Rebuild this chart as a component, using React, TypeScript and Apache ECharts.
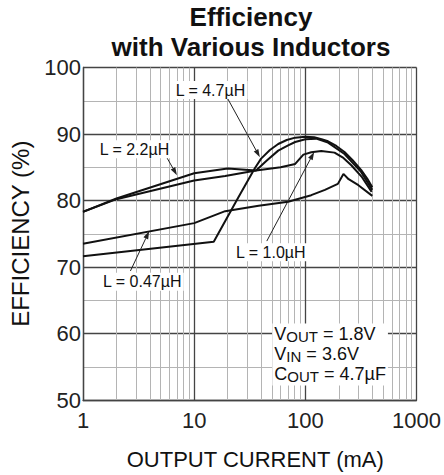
import React, { useEffect, useRef } from "react";
import * as echarts from "echarts";

// ---------- data (output current mA, efficiency %) ----------
const X_TICKS = [1, 10, 100, 1000];
const Y_TICKS = [50, 60, 70, 80, 90, 100];
const MINOR_X = [2, 3, 4, 5, 6, 7, 8, 9, 20, 30, 40, 50, 60, 70, 80, 90, 200, 300, 400, 500, 600, 700, 800, 900];

const L_4_7 = [
  [1, 71.6], [15, 73.8], [25, 80.5], [35, 84.8], [40, 86.3], [48, 87.6], [57, 88.5], [68, 89.1],
  [81, 89.45], [100, 89.6], [120, 89.5], [140, 89.2], [160, 88.9], [190, 88.2], [225, 87.3],
  [265, 86.1], [317, 84.6], [360, 83.3], [400, 82.0],
];
const L_2_2 = [
  [1, 78.3], [2, 80.3], [10, 84.1], [20, 84.8], [36, 84.5], [45, 86.0], [57, 87.5], [70, 88.3],
  [81, 88.8], [100, 89.2], [125, 89.3], [160, 88.7], [225, 87.0], [317, 84.3], [400, 81.6],
];
const L_1_0 = [
  [1, 78.3], [2, 80.2], [10, 83.0], [19, 83.7], [36, 84.5], [60, 85.0], [81, 85.5], [96, 86.9],
  [113, 87.25], [139, 87.45], [183, 87.2], [220, 86.4], [259, 85.3], [320, 83.6], [395, 81.3],
];
const L_0_47 = [
  [1, 73.5], [10, 76.6], [19, 78.4], [38, 79.2], [70, 79.8], [113, 80.8], [150, 81.6], [196, 82.5],
  [220, 84.0], [245, 83.2], [300, 82.3], [400, 80.7],
];

const SERIES_NAMES = ["L = 4.7µH", "L = 2.2µH", "L = 1.0µH", "L = 0.47µH"];

// ---------- annotation layout (data coordinates) ----------
const ANNOTATIONS = [
  { text: "L = 4.7µH", at: [14.0, 96.6], from: [19.9, 95.4], to: [39.0, 86.5] },
  { text: "L = 2.2µH", at: [2.9, 87.7], from: [5.7, 86.4], to: [7.0, 83.8] },
  { text: "L = 0.47µH", at: [3.41, 67.8], from: [2.67, 69.4], to: [3.94, 75.4] },
  { text: "L = 1.0µH", at: [48.9, 72.2], from: [45.0, 73.9], to: [120, 87.3] },
];
const CONDITIONS_AT = [50.5, 61.5];

const FONT = "'Liberation Sans', Arial, sans-serif";

export default function App() {
  const ref = useRef<HTMLDivElement>(null);

  useEffect(() => {
    if (!ref.current) return;
    const chart = echarts.init(ref.current, null, { renderer: "svg" });

    const curve = (name: string, data: number[][]) => ({
      name,
      type: "line",
      data,
      showSymbol: false,
      symbol: "none",
      smooth: false,
      z: 5,
      lineStyle: { color: "#111", width: 2 },
    });

    chart.setOption({
      animation: false,
      textStyle: { fontFamily: FONT },
      title: {
        text: "Efficiency\nwith Various Inductors",
        left: 251,
        top: 2,
        textAlign: "center",
        padding: 0,
        textStyle: { fontSize: 26, fontWeight: "bold", lineHeight: 30, color: "#111", fontFamily: FONT },
      },
      grid: { left: 82, right: 24.5, top: 67.5, bottom: 72, containLabel: false },
      xAxis: {
        type: "log",
        logBase: 10,
        min: X_TICKS[0],
        max: X_TICKS[X_TICKS.length - 1],
        name: "OUTPUT CURRENT (mA)",
        nameLocation: "middle",
        nameGap: 48,
        nameTextStyle: { fontSize: 22, color: "#111", padding: [0, 0, 0, 11] },
        axisLine: { show: true, lineStyle: { color: "#444", width: 1.3 } },
        axisTick: { show: false },
        axisLabel: { fontSize: 22, color: "#222", margin: 9, formatter: (v: number) => String(v) },
        splitLine: { show: true, lineStyle: { color: "#444", width: 1.3 } },
      },
      yAxis: {
        type: "value",
        min: Y_TICKS[0],
        max: Y_TICKS[Y_TICKS.length - 1],
        interval: 10,
        name: "EFFICIENCY (%)",
        nameLocation: "middle",
        nameRotate: 90,
        nameGap: 51,
        nameTextStyle: { fontSize: 24, color: "#111" },
        axisLine: { show: true, lineStyle: { color: "#444", width: 1.3 } },
        axisTick: { show: false },
        axisLabel: { fontSize: 22, color: "#222", margin: 2 },
        splitLine: { show: true, lineStyle: { color: "#444", width: 1.3 } },
        minorTick: { show: false, splitNumber: 2 },
        minorSplitLine: { show: true, lineStyle: { color: "#b4b4b4", width: 1 } },
      },
      series: [
        {
          type: "line",
          data: [],
          z: 1,
          silent: true,
          markLine: {
            silent: true,
            symbol: "none",
            label: { show: false },
            lineStyle: { color: "#b4b4b4", width: 1, type: "solid" },
            data: MINOR_X.map((v) => ({ xAxis: v })),
          },
        },
        curve(SERIES_NAMES[0], L_4_7),
        curve(SERIES_NAMES[1], L_2_2),
        curve(SERIES_NAMES[2], L_1_0),
        curve(SERIES_NAMES[3], L_0_47),
      ],
    });

    const toPx = (p: number[]) => chart.convertToPixel({ gridIndex: 0 }, p) as number[];
    const elements: any[] = [];
    ANNOTATIONS.forEach((a) => {
      const tail = toPx(a.from);
      const tip = toPx(a.to);
      const dx = tip[0] - tail[0];
      const dy = tip[1] - tail[1];
      const len = Math.sqrt(dx * dx + dy * dy) || 1;
      const ux = dx / len, uy = dy / len;
      const hl = 8, hw = 2.6;
      const bx = tip[0] - ux * hl, by = tip[1] - uy * hl;
      elements.push({
        type: "line",
        z: 20,
        shape: { x1: tail[0], y1: tail[1], x2: bx, y2: by },
        style: { stroke: "#222", lineWidth: 1 },
      });
      elements.push({
        type: "polygon",
        z: 20,
        shape: {
          points: [
            [tip[0], tip[1]],
            [bx - uy * hw, by + ux * hw],
            [bx + uy * hw, by - ux * hw],
          ],
        },
        style: { fill: "#222" },
      });
      const c = toPx(a.at);
      elements.push({
        type: "text",
        z: 21,
        x: c[0],
        y: c[1],
        style: {
          text: a.text,
          align: "center",
          verticalAlign: "middle",
          fontSize: 16,
          fontFamily: FONT,
          fill: "#111",
          backgroundColor: "#fff",
          padding: [1, 2],
        },
      });
    });
    const cp = toPx(CONDITIONS_AT);
    elements.push({
      type: "text",
      z: 21,
      x: cp[0],
      y: cp[1],
      style: {
        text: "{m|V}{s|OUT}{m| = 1.8V}\n{m|V}{s|IN}{m| = 3.6V}\n{m|C}{s|OUT}{m| = 4.7µF}",
        fontFamily: FONT,
        fill: "#111",
        backgroundColor: "#fff",
        padding: [0, 2, 2, 2],
        rich: {
          m: { fontSize: 18, lineHeight: 20, fontFamily: FONT, fill: "#111" },
          s: { fontSize: 15, lineHeight: 12, verticalAlign: "bottom", fontFamily: FONT, fill: "#111" },
        },
      },
    });
    chart.setOption({ graphic: elements });

    return () => chart.dispose();
  }, []);

  return (
    <div
      ref={ref}
      style={{ position: "fixed", left: 0, top: 0, width: 444, height: 475, background: "#fff" }}
    />
  );
}
